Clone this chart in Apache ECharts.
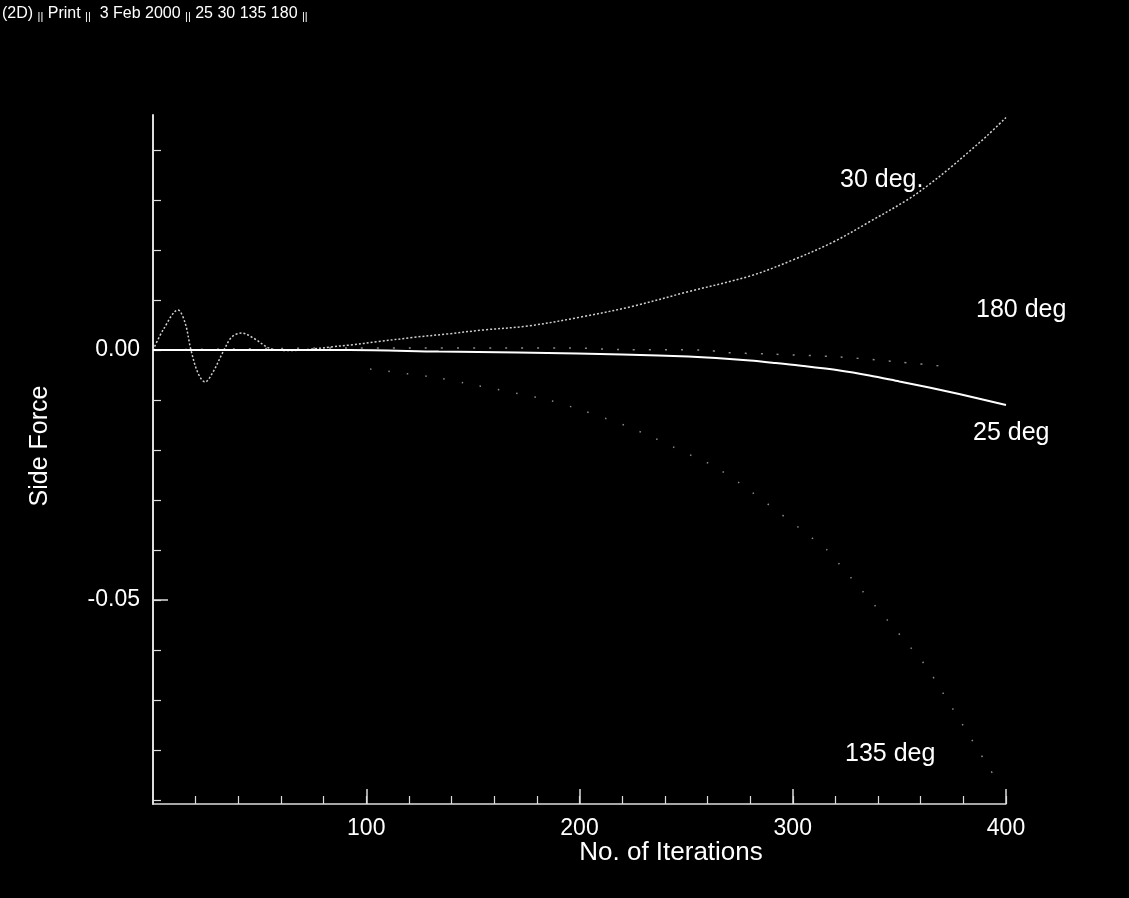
<!DOCTYPE html>
<html><head><meta charset="utf-8">
<script src="https://cdn.jsdelivr.net/npm/echarts@6/dist/echarts.min.js"></script>
<style>html,body{margin:0;padding:0;background:#000;overflow:hidden}#c{width:1129px;height:898px}</style>
</head><body><div id="c"></div>
<script>
// ---- tick values ----
const xMinorTicks = [20,40,60,80,100,120,140,160,180,200,220,240,260,280,300,320,340,360,380,400];
const xMajorTicks = [100,200,300,400];
const xTickLabels = [100,200,300,400];
const yMinorTicks = [0.04,0.03,0.02,0.01,0,-0.01,-0.02,-0.03,-0.04,-0.05,-0.06,-0.07,-0.08,-0.09];
const yMajorTicks = [-0.05];
const yTickLabels = [0,-0.05];

// ---- series: 30 deg ----
const iter30  = [0,5,11.7,15,17.8,21,24.4,28,33.3,37,41.7,47,55.8,65,75,84.4,92.4,105.5,121.5,137.9,154.7,175.8,200.7,225.6,250.4,280,300,319,335,353.6,363,373.7,383,391,400];
const force30 = [0,0.0042,0.008,0.0055,0,-0.0045,-0.0064,-0.0045,0,0.0026,0.0034,0.0024,0.0002,-0.0001,0.0002,0.00066,0.001,0.00166,0.0025,0.0032,0.004,0.0048,0.0066,0.0088,0.0116,0.0148,0.018,0.0216,0.0254,0.030,0.0328,0.0364,0.0398,0.0428,0.0465];
// ---- series: 25 deg ----
const iter25  = [0,50,92,134,171,199,220,237,251,264,280,292,303,322,336,350,364,378,400];
const force25 = [0,0,0,-0.0003,-0.0005,-0.0007,-0.0009,-0.0011,-0.0013,-0.0016,-0.0021,-0.0026,-0.0031,-0.0041,-0.0051,-0.0063,-0.0075,-0.0088,-0.011];
// ---- series: 135 deg ----
const iter135  = [101.8,134,146,185.3,200.7,213,222,234,244,254,262,275,315.6,321,362.5,366.7,395];
const force135 = [-0.0038,-0.0056,-0.0066,-0.010,-0.012,-0.0138,-0.0152,-0.0174,-0.0194,-0.0214,-0.023,-0.0266,-0.0398,-0.0424,-0.0632,-0.066,-0.0856];
// ---- series: 180 deg ----
const iter180  = [0,90,195.5,219,258.9,268,288,322,350,373.7];
const force180 = [0,0.0004,0.0004,0.0001,0,-0.0005,-0.0008,-0.0014,-0.0024,-0.0034];

const zip = (a,b) => a.map((v,i)=>[v,b[i]]);
const FONT = 'Liberation Sans, Arial, Helvetica, sans-serif';
const chart = echarts.init(document.getElementById('c'), null, {renderer:'canvas'});

const axisCommonX = {type:'value', min:0, max:400, position:'bottom', splitLine:{show:false}};
const axisCommonY = {type:'value', min:-0.0908, max:0.047, position:'left', splitLine:{show:false}};

chart.setOption({
  backgroundColor:'#000',
  animation:false,
  grid:{left:153, right:123, top:115, bottom:94, containLabel:false},
  xAxis:[
    Object.assign({}, axisCommonX, {
      axisLine:{show:true, onZero:false, lineStyle:{color:'#ddd', width:1.5}},
      axisTick:{show:true, inside:true, length:8, customValues:xMinorTicks, lineStyle:{color:'#ddd', width:1.2}},
      axisLabel:{show:true, customValues:xTickLabels, color:'#fff', fontSize:23, fontFamily:FONT, margin:13}
    }),
    Object.assign({}, axisCommonX, {
      axisLine:{show:false, onZero:false},
      axisTick:{show:true, inside:true, length:15, customValues:xMajorTicks, lineStyle:{color:'#ddd', width:1.5}},
      axisLabel:{show:false}
    })
  ],
  yAxis:[
    Object.assign({}, axisCommonY, {
      axisLine:{show:true, onZero:false, lineStyle:{color:'#ddd', width:2}},
      axisTick:{show:true, inside:true, length:8, customValues:yMinorTicks, lineStyle:{color:'#ddd', width:1.2}},
      axisLabel:{show:true, customValues:yTickLabels, color:'#fff', fontSize:23, fontFamily:FONT, margin:13,
        formatter:v=>Number(v).toFixed(2)}
    }),
    Object.assign({}, axisCommonY, {
      axisLine:{show:false, onZero:false},
      axisTick:{show:true, inside:true, length:15, customValues:yMajorTicks, lineStyle:{color:'#ddd', width:1.5}},
      axisLabel:{show:false}
    })
  ],
  series:[
    {name:'135 deg', type:'line', data:zip(iter135,force135), showSymbol:false, smooth:0.3,
      lineStyle:{color:'#8a8a8a', width:1.5, type:[1.5,17]}},
    {name:'180 deg', type:'line', data:zip(iter180,force180), showSymbol:false, smooth:0.3,
      lineStyle:{color:'#8a8a8a', width:1.5, type:[2,14]}},
    {name:'30 deg', type:'line', data:zip(iter30,force30), showSymbol:false, smooth:0.35,
      lineStyle:{color:'#cfcfcf', width:1.5, type:[2,2]}},
    {name:'25 deg', type:'line', data:zip(iter25,force25), showSymbol:false, smooth:0.3,
      lineStyle:{color:'#ffffff', width:2}}
  ],
  graphic:[
    {type:'text', left:2, top:6, style:{
      text:'(2D) {s|||} Print {s|||}  3 Feb 2000 {s|||} 25 30 135 180 {s|||}',
      fill:'#fff', font:'16px '+FONT,
      rich:{s:{fontSize:11, fill:'#fff', fontFamily:FONT, verticalAlign:'bottom', padding:[6,0,0,0]}}}},
    {type:'text', x:671, y:853, style:{text:'No. of Iterations', fill:'#fff', font:'26px '+FONT, align:'center', verticalAlign:'middle'}},
    {type:'text', x:40, y:446, rotation:Math.PI/2, style:{text:'Side Force', fill:'#fff', font:'25px '+FONT, align:'center', verticalAlign:'middle'}},
    {type:'text', x:840, y:180, style:{text:'30 deg.', fill:'#fff', font:'25px '+FONT, align:'left', verticalAlign:'middle'}},
    {type:'text', x:976, y:310, style:{text:'180 deg', fill:'#fff', font:'25px '+FONT, align:'left', verticalAlign:'middle'}},
    {type:'text', x:973, y:433, style:{text:'25 deg', fill:'#fff', font:'25px '+FONT, align:'left', verticalAlign:'middle'}},
    {type:'text', x:845, y:754, style:{text:'135 deg', fill:'#fff', font:'25px '+FONT, align:'left', verticalAlign:'middle'}}
  ]
});
</script></body></html>
